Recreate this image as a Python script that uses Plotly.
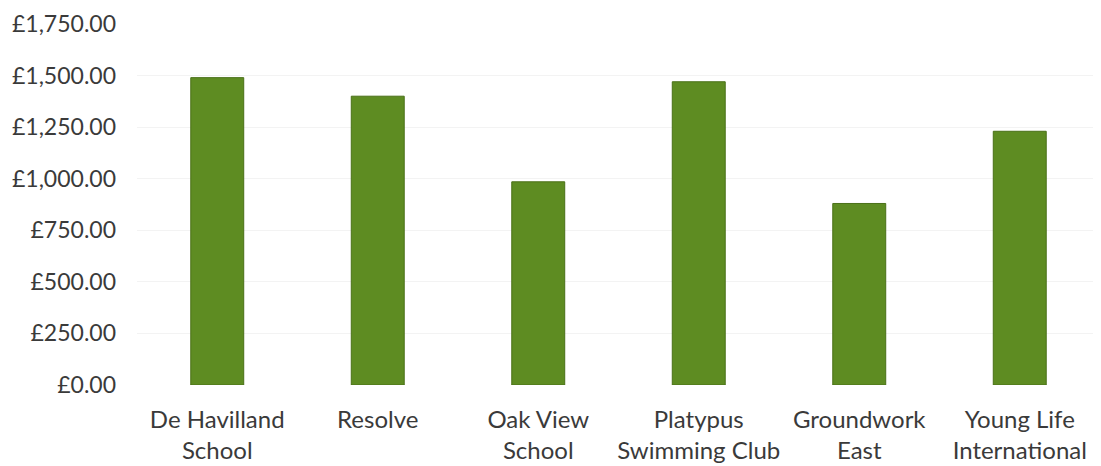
import plotly.graph_objects as go

categories = ["De Havilland<br>School", "Resolve", "Oak View<br>School",
              "Platypus<br>Swimming Club", "Groundwork<br>East", "Young Life<br>International"]
values = [1490, 1400, 985, 1470, 880, 1230]
tick_vals = [0, 250, 500, 750, 1000, 1250, 1500, 1750]
tick_text = ["£0.00", "£250.00", "£500.00", "£750.00", "£1,000.00", "£1,250.00", "£1,500.00", "£1,750.00"]

fig = go.Figure(go.Bar(
    x=categories, y=values,
    marker=dict(color="#5e8c22", line=dict(color="#4a7018", width=1)),
    width=0.33,
))
fig.update_layout(
    width=1101, height=466,
    margin=dict(l=129, r=9, t=16, b=89),
    paper_bgcolor="white", plot_bgcolor="white",
    font=dict(family="Lato, Open Sans, sans-serif", size=24, color="#3a3a3a"),
    showlegend=False,
)
fig.update_yaxes(range=[0, 1750], tickvals=tick_vals, ticktext=tick_text,
                 tickfont=dict(size=23),
                 showgrid=True, gridcolor="#f3f3f3", gridwidth=1, zeroline=False,
                 ticks="", ticklabelstandoff=20, automargin=False)
fig.update_xaxes(showgrid=False, showline=False, ticks="", tickangle=0,
                 ticklabelstandoff=18, automargin=False)
fig.write_html("out.html")
